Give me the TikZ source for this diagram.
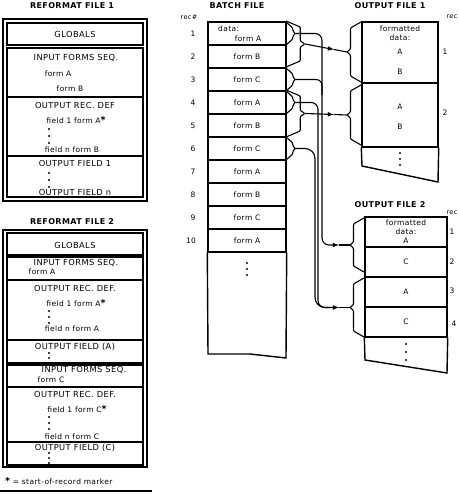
\documentclass[tikz,border=0pt]{standalone}
\usepackage{fontspec}
\newfontfamily\dfont[LetterSpace=5]{DejaVu Sans}
\usepackage{tikz}
\usetikzlibrary{calc}
\usetikzlibrary{arrows.meta}
\usetikzlibrary{positioning}
\tikzset{>=latex}
\tikzstyle{ttl} = [inner sep=0pt, font=\dfont\bfseries\fontsize{8}{9}\selectfont]
\tikzstyle{hd} = [inner sep=0pt, font=\dfont\fontsize{8.3}{9}\selectfont]
\tikzstyle{txt} = [inner sep=0pt, font=\dfont\fontsize{7.5}{9}\selectfont]
\tikzstyle{sm} = [inner sep=0pt, font=\dfont\fontsize{6.5}{7}\selectfont]
\tikzstyle{frm} = [line width=1.4pt]
\tikzstyle{rw} = [rectangle, draw, line width=1.4pt, minimum width=78pt, minimum height=23pt, inner sep=0pt, font=\dfont\fontsize{7.5}{9}\selectfont]
\tikzstyle{orw} = [rectangle, draw, line width=1.4pt, inner sep=0pt, align=center, font=\dfont\fontsize{7.5}{9}\selectfont]
\tikzstyle{cn} = [line width=1.1pt]
\tikzstyle{brc} = [line width=1.1pt, rounded corners=1pt]
% angular brace: x, top, bottom, signed width, name of tip
\newcommand{\brk}[5]{%
  \pgfmathsetmacro\bym{(#2+#3)/2}%
  \pgfmathsetmacro\bxv{#1+0.75*(#4)}%
  \pgfmathsetmacro\bxt{#1+(#4)}%
  \draw[brc] (#1,#2) -- (\bxv,{#2+6}) -- (\bxv,{\bym-3}) -- (\bxt,\bym) coordinate (#5)
    -- (\bxv,{\bym+3}) -- (\bxv,{#3-6}) -- (#1,#3);}
\newcommand{\vdts}[3][6]{\foreach \k in {0,1,2} {\fill ({#2},{#3+\k*#1}) circle (1.2pt);}}
\newcommand{\recmark}{{\bfseries\fontsize{9.5}{9}\selectfont *}}

\begin{document}
\begin{tikzpicture}[x=1pt, y=-1pt]
\useasboundingbox (0,0) rectangle (458,494);

% reformat file 1
\node [ttl] (rf1) at (72,6) {REFORMAT FILE 1};
\draw [frm] (3,19) rectangle (147,201);
\draw [frm] (7,23) rectangle (143,45);
\draw [frm] (7,48) rectangle (143,97);
\draw [frm] (7,97) rectangle (143,156);
\draw [frm] (7,156) rectangle (143,197);
\node [hd] (gl1) at (75,34) {GLOBALS};
\node [hd] (in1) at (76,58) {INPUT FORMS SEQ.};
\node [txt] (fa1) at (58,74) {form A};
\node [txt] (fb1) at (70,89) {form B};
\node [hd] (od1) at (75,105) {OUTPUT REC. DEF};
\node [txt] (f11) at (76,120) {field 1 form A\recmark};
\vdts[7]{49}{129}
\node [txt] (fn1) at (72,150) {field n form B};
\node [hd] (of1) at (75,163) {OUTPUT FIELD 1};
\vdts[7]{49}{173}
\node [hd] (ofn1) at (75,192) {OUTPUT FIELD n};

% reformat file 2
\node [ttl] (rf2) at (72,222) {REFORMAT FILE 2};
\draw [frm] (3,230) rectangle (147,467);
\draw [frm] (7,233) rectangle (143,255);
\draw [frm] (7,257) rectangle (143,280);
\draw [frm] (7,280) rectangle (143,340);
\draw [frm] (7,340) rectangle (143,363);
\draw [frm] (7,365) rectangle (143,387);
\draw [frm] (7,387) rectangle (143,442);
\draw [frm] (7,442) rectangle (143,465);
\node [hd] (gl2) at (75,245) {GLOBALS};
\node [hd] (in2) at (76,263) {INPUT FORMS SEQ.};
\node [txt] (fa2) at (42,272) {form A};
\node [hd] (od2) at (75,288) {OUTPUT REC. DEF.};
\node [txt] (f12) at (76,303) {field 1 form A\recmark};
\vdts[6]{49}{311}
\node [txt] (fn2) at (72,329) {field n form A};
\node [hd] (ofa) at (75,347) {OUTPUT FIELD (A)};
\vdts[5]{49}{353}
\node [hd] (in3) at (84,370) {INPUT FORMS SEQ.};
\node [txt] (fc3) at (51,380) {form C};
\node [hd] (od3) at (75,394) {OUTPUT REC. DEF.};
\node [txt] (f13) at (77,409) {field 1 form C\recmark};
\vdts[6]{49}{417}
\node [txt] (fn3) at (72,437) {field n form C};
\node [hd] (ofc) at (75,448) {OUTPUT FIELD (C)};
\vdts[5]{49}{453}
\node [txt, anchor=west] (nt) at (5,481) {\recmark{} = start-of-record marker};
\draw [frm] (0,491) -- (152,491);

% batch file
\node [ttl] (bt) at (237,6) {BATCH FILE};
\node [sm] (rh) at (189,17) {rec\#};
\node [rw] (b1) at (247,33.5) {};
\node [txt, anchor=west] (dt) at (218,29) {data:};
\node [txt] (fa) at (248,39) {form A};
\node [rw] (b2) at (247,56.5) {form B};
\node [rw] (b3) at (247,79.5) {form C};
\node [rw] (b4) at (247,102.5) {form A};
\node [rw] (b5) at (247,125.5) {form B};
\node [rw] (b6) at (247,148.5) {form C};
\node [rw] (b7) at (247,171.5) {form A};
\node [rw] (b8) at (247,194.5) {form B};
\node [rw] (b9) at (247,217.5) {form C};
\node [rw] (b10) at (247,240.5) {form A};
\draw [frm] (b10.south west) -- (208,354) -- (250,354) -- (286,358) -- (b10.south east);
\vdts{247}{263}
\node [txt] (n1) at (193,33.5) {1};
\node [txt] (n2) at (193,56.5) {2};
\node [txt] (n3) at (193,79.5) {3};
\node [txt] (n4) at (193,102.5) {4};
\node [txt] (n5) at (193,125.5) {5};
\node [txt] (n6) at (193,148.5) {6};
\node [txt] (n7) at (193,171.5) {7};
\node [txt] (n8) at (193,194.5) {8};
\node [txt] (n9) at (193,217.5) {9};
\node [txt] (n10) at (191,240.5) {10};

% braces on the batch file
\brk{286}{22}{45}{9}{t1}
\brk{286}{21}{67}{19}{t12}
\brk{286}{68}{91}{9}{t3}
\brk{286}{91}{114}{9}{t4}
\brk{286}{90}{137}{19}{t45}
\brk{286}{137}{160}{9}{t6}

% output file 1
\node [ttl] (ot1) at (390,6) {OUTPUT FILE 1};
\node [sm] (rc1) at (452,17) {rec};
\node [orw, minimum width=76pt, minimum height=61pt] (o1a) at (400,52.5) {};
\node [orw, minimum width=76pt, minimum height=64pt] (o1b) at (400,115) {};
\draw [frm] (o1b.south west) -- (362,166) -- (438,182) -- (o1b.south east);
\node [txt, align=center] (fd1) at (400,33) {formatted\\data:};
\node [txt] (a1) at (400,52) {A};
\node [txt] (c1) at (400,72) {B};
\node [txt] (a2) at (400,107) {A};
\node [txt] (c2) at (400,127) {B};
\vdts{400}{153}
\node [txt] (p1) at (445,52) {1};
\node [txt] (p2) at (445,113) {2};
\brk{361}{22}{82}{-14}{u1}
\brk{361}{85}{145}{-14}{u2}

% output file 2
\node [ttl] (ot2) at (390,205) {OUTPUT FILE 2};
\node [sm] (rc2) at (452,213) {rec};
\node [orw, minimum width=82pt, minimum height=30pt] (o2a) at (406,232) {formatted\\data:\\A};
\node [orw, minimum width=82pt, minimum height=30pt] (o2b) at (406,262) {C};
\node [orw, minimum width=82pt, minimum height=30pt] (o2c) at (406,292) {A};
\node [orw, minimum width=82pt, minimum height=30pt] (o2d) at (406,322) {C};
\draw [frm] (o2d.south west) -- (365,360) -- (447,373) -- (o2d.south east);
\vdts[8]{406}{344}
\node [txt] (q1) at (452,232) {1};
\node [txt] (q2) at (452,262) {2};
\node [txt] (q3) at (452,291) {3};
\node [txt] (q4) at (454,324) {4};
\brk{364}{218}{272}{-14}{u3}
\brk{364}{278}{337}{-14}{u4}

% connectors
\coordinate (m1) at (334,49.5);
\coordinate (m2) at (334,114.5);
\coordinate (m3) at (339,245);
\coordinate (m4) at (339,307.5);
\draw [cn, -latex] (t12) -- (m1);
\draw [cn] (m1) -- (u1);
\draw [cn, -latex] (t45) -- (m2);
\draw [cn] (m2) -- (u2);
\draw [cn, -latex, rounded corners=7pt] (t1) -- (322,33.5) -- (322,245) -- (m3);
\draw [cn, rounded corners=6pt] (t3) -- (322,79.5) -- (322,95);
\draw [cn] (m3) -- (u3);
\draw [cn, -latex, rounded corners=7pt] (t4) -- (318,102.5) -- (318,307.5) -- (m4);
\draw [cn, rounded corners=10pt] (t6) -- (315,148.5) -- (315,307.5) -- (330,307.5);
\draw [cn] (m4) -- (u4);
\end{tikzpicture}
\end{document}
